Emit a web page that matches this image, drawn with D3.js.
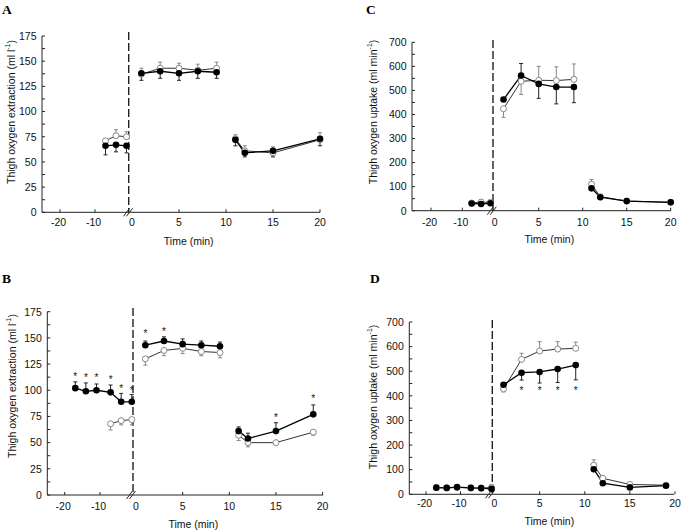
<!DOCTYPE html>
<html><head><meta charset="utf-8">
<script src="https://cdn.jsdelivr.net/npm/d3@7"></script>
<style>body{margin:0;background:#fff}svg{display:block}</style>
</head><body><svg id="c" width="683" height="532" font-family="'Liberation Sans', Arial, Helvetica, sans-serif"></svg>
<script>
// ---------- data ----------
const baseShort = [-7, -4, -1];
const baseLong = [-17, -14, -11, -7, -4, -1];
const exTimes = [1, 3, 5, 7, 9];
const recAC = [11, 12, 15, 20];
const recBD = [11, 12, 15, 19];
const xNegTicks = [-20, -10];
const xPosTicks = [0, 5, 10, 15, 20];

// Panel A (thigh O2 extraction, ml l-1)
const aFilledBase = [66, 67, 66], aFilledBaseLo = [9, 7, 7];
const aOpenBase = [71, 76, 75], aOpenBaseHi = [2, 6, 5];
const aFilledEx = [138, 140, 138, 140, 139], aFilledExLo = [7, 7, 7, 7, 6];
const aOpenEx = [137, 143, 143, 141, 143], aOpenExHi = [6, 6, 5, 6, 6];
const aFilledRec = [72, 59, 61, 73], aFilledRecLo = [6, 4, 6, 7];
const aOpenRec = [73, 61, 59, 72], aOpenRecHi = [4, 5, 6, 7];

// Panel B
const bFilledBase = [102, 99, 100, 98, 89, 89], bFilledBaseHi = [6, 8, 6, 7, 8, 7];
const bOpenBase = [68, 71, 72], bOpenBaseLo = [6, 4, 5];
const bFilledEx = [143, 147, 144, 143, 142], bFilledExHi = [4, 4, 5, 4, 4];
const bOpenEx = [130, 138, 140, 137, 136], bOpenExLo = [6, 5, 5, 4, 5];
const bFilledRec = [61, 54, 61, 77], bFilledRecHi = [4, 5, 8, 9];
const bOpenRec = [57, 50, 50, 60], bOpenRecLo = [5, 4, 2, 3];
const bStarTimes = [-17, -14, -11, -7, -4, -1, 1, 3, 15, 19];
const bStarVals = [115, 114, 114, 112, 104, 102, 156, 158, 76, 94];

// Panel C (thigh O2 uptake, ml min-1)
const cFilledBase = [30, 28, 31];
const cOpenBase = [32, 36, 35], cOpenBaseHi = [0, 4, 8];
const cFilledEx = [462, 562, 527, 514, 514], cFilledExLo = [0, 0, 60, 70, 65], cFilledExHi = [0, 50, 0, 0, 0];
const cOpenEx = [424, 538, 542, 541, 546], cOpenExLo = [36, 55, 0, 0, 0], cOpenExHi = [0, 0, 58, 57, 64];
const cFilledRec = [93, 56, 40, 35], cFilledRecLo = [8, 4, 0, 0];
const cOpenRec = [110, 58, 40, 35], cOpenRecHi = [20, 6, 0, 0];

// Panel D
const dFilledBase = [27, 26, 29, 26, 25, 22];
const dOpenBase = [27, 26, 28, 26, 25, 28], dOpenBaseHi = [0, 0, 0, 0, 0, 12];
const dFilledEx = [445, 494, 497, 509, 525], dFilledExLo = [0, 30, 45, 55, 60];
const dOpenEx = [428, 548, 582, 590, 593], dOpenExHi = [0, 25, 38, 30, 25], dOpenExLo = [12, 0, 0, 0, 0];
const dFilledRec = [102, 45, 28, 35];
const dOpenRec = [118, 65, 40, 37], dOpenRecHi = [22, 6, 0, 0];
const dStarTimes = [3, 5, 7, 9];
const dStarVals = [431, 431, 431, 431];

const ylabExtraction = "Thigh oxygen extraction (ml l";
const ylabUptake = "Thigh oxygen uptake (ml min";
const xlab = "Time (min)";

// ---------- helpers ----------
function ser(t, v, hi, lo) { return t.map((x, i) => ({t: x, v: v[i], hi: hi ? hi[i] : 0, lo: lo ? lo[i] : 0})); }

const panels = [
  {letter: "A", lx: 2, ly: 13.5, yMax: 175, major: 25, minor: 12.5, yTop: 36, yBot: 212.3, axX: 42,
   negR: [60, 95], posR: [132, 320], breakX: 128.5, dashX: 128.7, dashTop: 32, axEnd: 320,
   ylab: ylabExtraction, ylabX: 11, ylabY: 112, xlabX: 188.7, xlabY: 244.5, tickDy: 13.5,
   filled: [ser(baseShort, aFilledBase, null, aFilledBaseLo), ser(exTimes, aFilledEx, null, aFilledExLo), ser(recAC, aFilledRec, null, aFilledRecLo)],
   open: [ser(baseShort, aOpenBase, aOpenBaseHi, null), ser(exTimes, aOpenEx, aOpenExHi, null), ser(recAC, aOpenRec, aOpenRecHi, null)],
   stars: []},
  {letter: "B", lx: 2, ly: 283.3, yMax: 175, major: 25, minor: 12.5, yTop: 311.7, yBot: 495, axX: 47.3,
   negR: [64.7, 100], posR: [136, 322.6], breakX: 131.5, dashX: 133, dashTop: 308, axEnd: 323,
   ylab: ylabExtraction, ylabX: 11.7, ylabY: 386, xlabX: 193.3, xlabY: 527.8, tickDy: 14.5,
   filled: [ser(baseLong, bFilledBase, bFilledBaseHi, null), ser(exTimes, bFilledEx, bFilledExHi, null), ser(recBD, bFilledRec, bFilledRecHi, null)],
   open: [ser(baseShort, bOpenBase, null, bOpenBaseLo), ser(exTimes, bOpenEx, null, bOpenExLo), ser(recBD, bOpenRec, null, bOpenRecLo)],
   stars: bStarTimes.map((t, i) => ({t, v: bStarVals[i]}))},
  {letter: "C", lx: 366, ly: 13.5, yMax: 700, major: 100, minor: 50, yTop: 42.3, yBot: 210.7, axX: 412,
   negR: [431, 462.3], posR: [494.7, 670.7], breakX: 492.3, dashX: 493, dashTop: 40, axEnd: 671,
   ylab: ylabUptake, ylabX: 373.3, ylabY: 112, xlabX: 549.3, xlabY: 242.5, tickDy: 15,
   filled: [ser(baseShort, cFilledBase, null, null), ser(exTimes, cFilledEx, cFilledExHi, cFilledExLo), ser(recAC, cFilledRec, null, cFilledRecLo)],
   open: [ser(baseShort, cOpenBase, cOpenBaseHi, null), ser(exTimes, cOpenEx, cOpenExHi, cOpenExLo), ser(recAC, cOpenRec, cOpenRecHi, null)],
   stars: []},
  {letter: "D", lx: 370, ly: 283.3, yMax: 700, major: 100, minor: 50, yTop: 322, yBot: 494.3, axX: 409.3,
   negR: [426, 460.5], posR: [494.5, 675], breakX: 490.5, dashX: 492.3, dashTop: 320, axEnd: 674,
   ylab: ylabUptake, ylabX: 373.3, ylabY: 397, xlabX: 549.3, xlabY: 524.5, tickDy: 13,
   filled: [ser(baseLong, dFilledBase, null, null), ser(exTimes, dFilledEx, null, dFilledExLo), ser(recBD, dFilledRec, null, null)],
   open: [ser(baseLong, dOpenBase, dOpenBaseHi, null), ser(exTimes, dOpenEx, dOpenExHi, dOpenExLo), ser(recBD, dOpenRec, dOpenRecHi, null)],
   stars: dStarTimes.map((t, i) => ({t, v: dStarVals[i]}))}
];

const svg = d3.select("#c");
const FS = 10.5;
const SANS = "'Liberation Sans', Arial, Helvetica, sans-serif";

panels.forEach(p => {
  const g = svg.append("g").attr("font-family", SANS);
  const y = d3.scaleLinear().domain([0, p.yMax]).range([p.yBot, p.yTop]);
  const xNeg = d3.scaleLinear().domain([-20, -10]).range(p.negR);
  const xPos = d3.scaleLinear().domain([0, 20]).range(p.posR);
  const x = t => t < 0 ? xNeg(t) : xPos(t);

  // panel letter
  g.append("text").attr("x", p.lx).attr("y", p.ly).text(p.letter)
    .attr("font-family", "'Liberation Serif', 'Times New Roman', serif").attr("font-weight", "bold").attr("font-size", 13.5);

  // y axis
  g.append("line").attr("x1", p.axX).attr("x2", p.axX).attr("y1", p.yTop).attr("y2", p.yBot).attr("stroke", "#222").attr("stroke-width", 1);
  const minors = d3.range(0, p.yMax + 0.001, p.minor);
  g.selectAll(null).data(minors).join("line")
    .attr("x1", p.axX).attr("x2", p.axX + 3).attr("y1", d => y(d)).attr("y2", d => y(d)).attr("stroke", "#222");
  const majors = d3.range(0, p.yMax + 0.001, p.major);
  g.selectAll(null).data(majors).join("text")
    .attr("font-family", SANS)
    .attr("x", p.axX - 5.5).attr("y", d => y(d) + 3.8).attr("text-anchor", "end").attr("font-size", FS).attr("fill", "#111")
    .text(d => d);

  // x axis
  g.append("line").attr("x1", p.axX).attr("x2", p.axEnd).attr("y1", p.yBot).attr("y2", p.yBot).attr("stroke", "#222");
  const tickPos = xNegTicks.map(t => xNeg(t)).concat(xPosTicks.filter(t => t > 0).map(t => xPos(t)));
  g.selectAll(null).data(tickPos).join("line")
    .attr("x1", d => d).attr("x2", d => d).attr("y1", p.yBot).attr("y2", p.yBot - 3).attr("stroke", "#222");
  g.selectAll(null).data(xNegTicks).join("text")
    .attr("font-family", SANS)
    .attr("x", d => xNeg(d) - 1.5).attr("y", p.yBot + p.tickDy).attr("text-anchor", "middle").attr("font-size", FS).attr("fill", "#111")
    .text(d => d);
  g.selectAll(null).data(xPosTicks).join("text")
    .attr("font-family", SANS)
    .attr("x", d => xPos(d)).attr("y", p.yBot + p.tickDy).attr("text-anchor", "middle").attr("font-size", FS).attr("fill", "#111")
    .text(d => d);

  // break marks
  [-2, 1].forEach(o => {
    g.append("line").attr("x1", p.breakX + o - 3).attr("x2", p.breakX + o + 3)
      .attr("y1", p.yBot + 4).attr("y2", p.yBot - 4).attr("stroke", "#222").attr("stroke-width", 1);
  });

  // dashed line
  g.append("line").attr("x1", p.dashX).attr("x2", p.dashX).attr("y1", p.dashTop).attr("y2", p.yBot)
    .attr("stroke", "#222").attr("stroke-width", 1.4).attr("stroke-dasharray", "8,3");

  // axis titles
  const yl = g.append("text").attr("font-family", SANS).attr("transform", `translate(${p.ylabX},${p.ylabY}) rotate(-90)`)
    .attr("text-anchor", "middle").attr("dominant-baseline", "central").attr("font-size", FS).attr("fill", "#111");
  yl.append("tspan").text(p.ylab);
  yl.append("tspan").attr("font-size", 7).attr("dy", -4).text("-1");
  yl.append("tspan").attr("dy", 4).text(")");
  g.append("text").attr("font-family", SANS).attr("x", p.xlabX).attr("y", p.xlabY).attr("text-anchor", "middle").attr("font-size", FS).attr("fill", "#111").text(xlab);

  const line = d3.line().x(d => x(d.t)).y(d => y(d.v));

  function errBars(data, color) {
    data.forEach(d => {
      const cx = x(d.t);
      if (d.hi > 0) {
        g.append("line").attr("x1", cx).attr("x2", cx).attr("y1", y(d.v)).attr("y2", y(d.v + d.hi)).attr("stroke", color);
        g.append("line").attr("x1", cx - 2).attr("x2", cx + 2).attr("y1", y(d.v + d.hi)).attr("y2", y(d.v + d.hi)).attr("stroke", color);
      }
      if (d.lo > 0) {
        g.append("line").attr("x1", cx).attr("x2", cx).attr("y1", y(d.v)).attr("y2", y(d.v - d.lo)).attr("stroke", color);
        g.append("line").attr("x1", cx - 2).attr("x2", cx + 2).attr("y1", y(d.v - d.lo)).attr("y2", y(d.v - d.lo)).attr("stroke", color);
      }
    });
  }

  p.open.forEach(s => {
    errBars(s, "#888");
    g.append("path").datum(s).attr("d", line).attr("fill", "none").attr("stroke", "#333").attr("stroke-width", 1);
  });
  p.filled.forEach(s => {
    errBars(s, "#222");
    g.append("path").datum(s).attr("d", line).attr("fill", "none").attr("stroke", "#000").attr("stroke-width", 1.3);
  });
  p.open.forEach(s => {
    g.selectAll(null).data(s).join("circle").attr("cx", d => x(d.t)).attr("cy", d => y(d.v)).attr("r", 3)
      .attr("fill", "#fff").attr("stroke", "#888").attr("stroke-width", 1);
  });
  p.filled.forEach(s => {
    g.selectAll(null).data(s).join("circle").attr("cx", d => x(d.t)).attr("cy", d => y(d.v)).attr("r", 3.3).attr("fill", "#000");
  });

  g.selectAll(null).data(p.stars).join("text")
    .attr("font-family", SANS)
    .attr("x", d => x(d.t)).attr("y", d => y(d.v) + 5.5).attr("text-anchor", "middle").attr("font-size", 10).attr("fill", "#111")
    .text("*");
});
</script></body></html>
